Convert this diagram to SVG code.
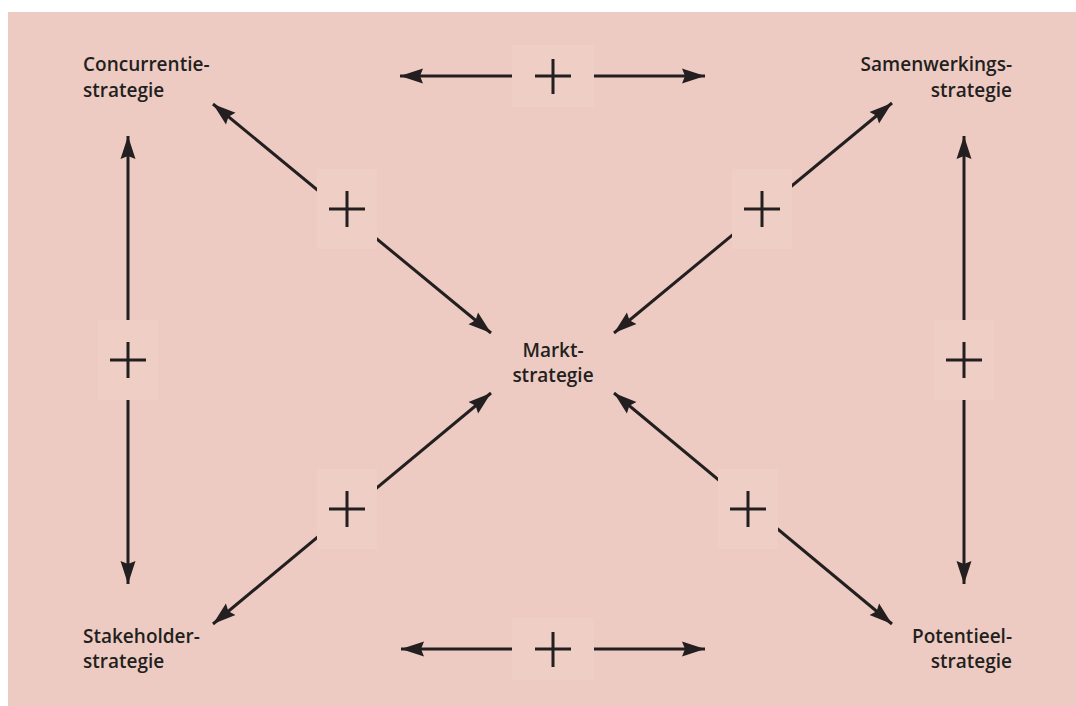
<svg xmlns="http://www.w3.org/2000/svg" width="1076" height="706" viewBox="0 0 1076 706">
  <style>
    .lbl { font-family: "Open Sans", "Liberation Sans", sans-serif; font-weight: 600; font-size: 19px; fill: #231f20; }
    .end { text-anchor: end; }
    .mid { text-anchor: middle; }
    .conn { stroke: #231f20; stroke-width: 3; fill: none; }
    .pbox { fill: #efcec6; }
    .plus { stroke: #231f20; stroke-width: 3; fill: none; }
  </style>
  <defs>
    <marker id="arrow" markerUnits="userSpaceOnUse" markerWidth="24" markerHeight="16" viewBox="0 0 24 16" refX="23" refY="8" orient="auto-start-reverse">
      <path d="M0,0.5 L23,8 L0,15.5 L3,8 z" fill="#231f20"/>
    </marker>
  </defs>

  <!-- background panel -->
  <rect x="8" y="12" width="1068" height="694" fill="#eecbc2"/>

  <!-- connectors -->
  <g id="connectors">
    <line class="conn" x1="400" y1="76" x2="705" y2="76" marker-start="url(#arrow)" marker-end="url(#arrow)"/>
    <line class="conn" x1="401" y1="649" x2="705" y2="649" marker-start="url(#arrow)" marker-end="url(#arrow)"/>
    <line class="conn" x1="128" y1="136" x2="128" y2="584" marker-start="url(#arrow)" marker-end="url(#arrow)"/>
    <line class="conn" x1="964" y1="136" x2="964" y2="584" marker-start="url(#arrow)" marker-end="url(#arrow)"/>
    <line class="conn" x1="213" y1="104" x2="491" y2="333" marker-start="url(#arrow)" marker-end="url(#arrow)"/>
    <line class="conn" x1="892" y1="103" x2="614" y2="333" marker-start="url(#arrow)" marker-end="url(#arrow)"/>
    <line class="conn" x1="213" y1="624" x2="491" y2="393" marker-start="url(#arrow)" marker-end="url(#arrow)"/>
    <line class="conn" x1="892" y1="624" x2="614" y2="393" marker-start="url(#arrow)" marker-end="url(#arrow)"/>
  </g>

  <!-- plus signs on their light pads -->
  <g id="plus-top">
    <rect class="pbox" x="512" y="45" width="82" height="62"/>
    <path class="plus" d="M535,76 H571 M553,59 V94"/>
  </g>
  <g id="plus-bottom">
    <rect class="pbox" x="512" y="618" width="82" height="62"/>
    <path class="plus" d="M535,649 H571 M553,632 V667"/>
  </g>
  <g id="plus-left">
    <rect class="pbox" x="98" y="320" width="60" height="80"/>
    <path class="plus" d="M110,360 H146 M128,342 V378"/>
  </g>
  <g id="plus-right">
    <rect class="pbox" x="934" y="320" width="60" height="80"/>
    <path class="plus" d="M946,360 H982 M964,342 V378"/>
  </g>
  <g id="plus-top-left">
    <rect class="pbox" x="317" y="169" width="60" height="80"/>
    <path class="plus" d="M329,209 H365 M347,191 V227"/>
  </g>
  <g id="plus-top-right">
    <rect class="pbox" x="732" y="169" width="60" height="80"/>
    <path class="plus" d="M744,209 H780 M762,191 V227"/>
  </g>
  <g id="plus-bottom-left">
    <rect class="pbox" x="317" y="469" width="60" height="80"/>
    <path class="plus" d="M329,509 H365 M347,491 V527"/>
  </g>
  <g id="plus-bottom-right">
    <rect class="pbox" x="718" y="469" width="60" height="80"/>
    <path class="plus" d="M730,509 H766 M748,491 V527"/>
  </g>

  <!-- strategy labels -->
  <g id="concurrentie">
    <text class="lbl" x="83" y="71">Concurrentie-</text>
    <text class="lbl" x="83" y="97">strategie</text>
  </g>
  <g id="samenwerkings">
    <text class="lbl end" x="1012" y="71">Samenwerkings-</text>
    <text class="lbl end" x="1012" y="97">strategie</text>
  </g>
  <g id="markt">
    <text class="lbl mid" x="553" y="357">Markt-</text>
    <text class="lbl mid" x="553" y="382">strategie</text>
  </g>
  <g id="stakeholder">
    <text class="lbl" x="83" y="643">Stakeholder-</text>
    <text class="lbl" x="83" y="668">strategie</text>
  </g>
  <g id="potentieel">
    <text class="lbl end" x="1012" y="643">Potentieel-</text>
    <text class="lbl end" x="1012" y="668">strategie</text>
  </g>
</svg>
